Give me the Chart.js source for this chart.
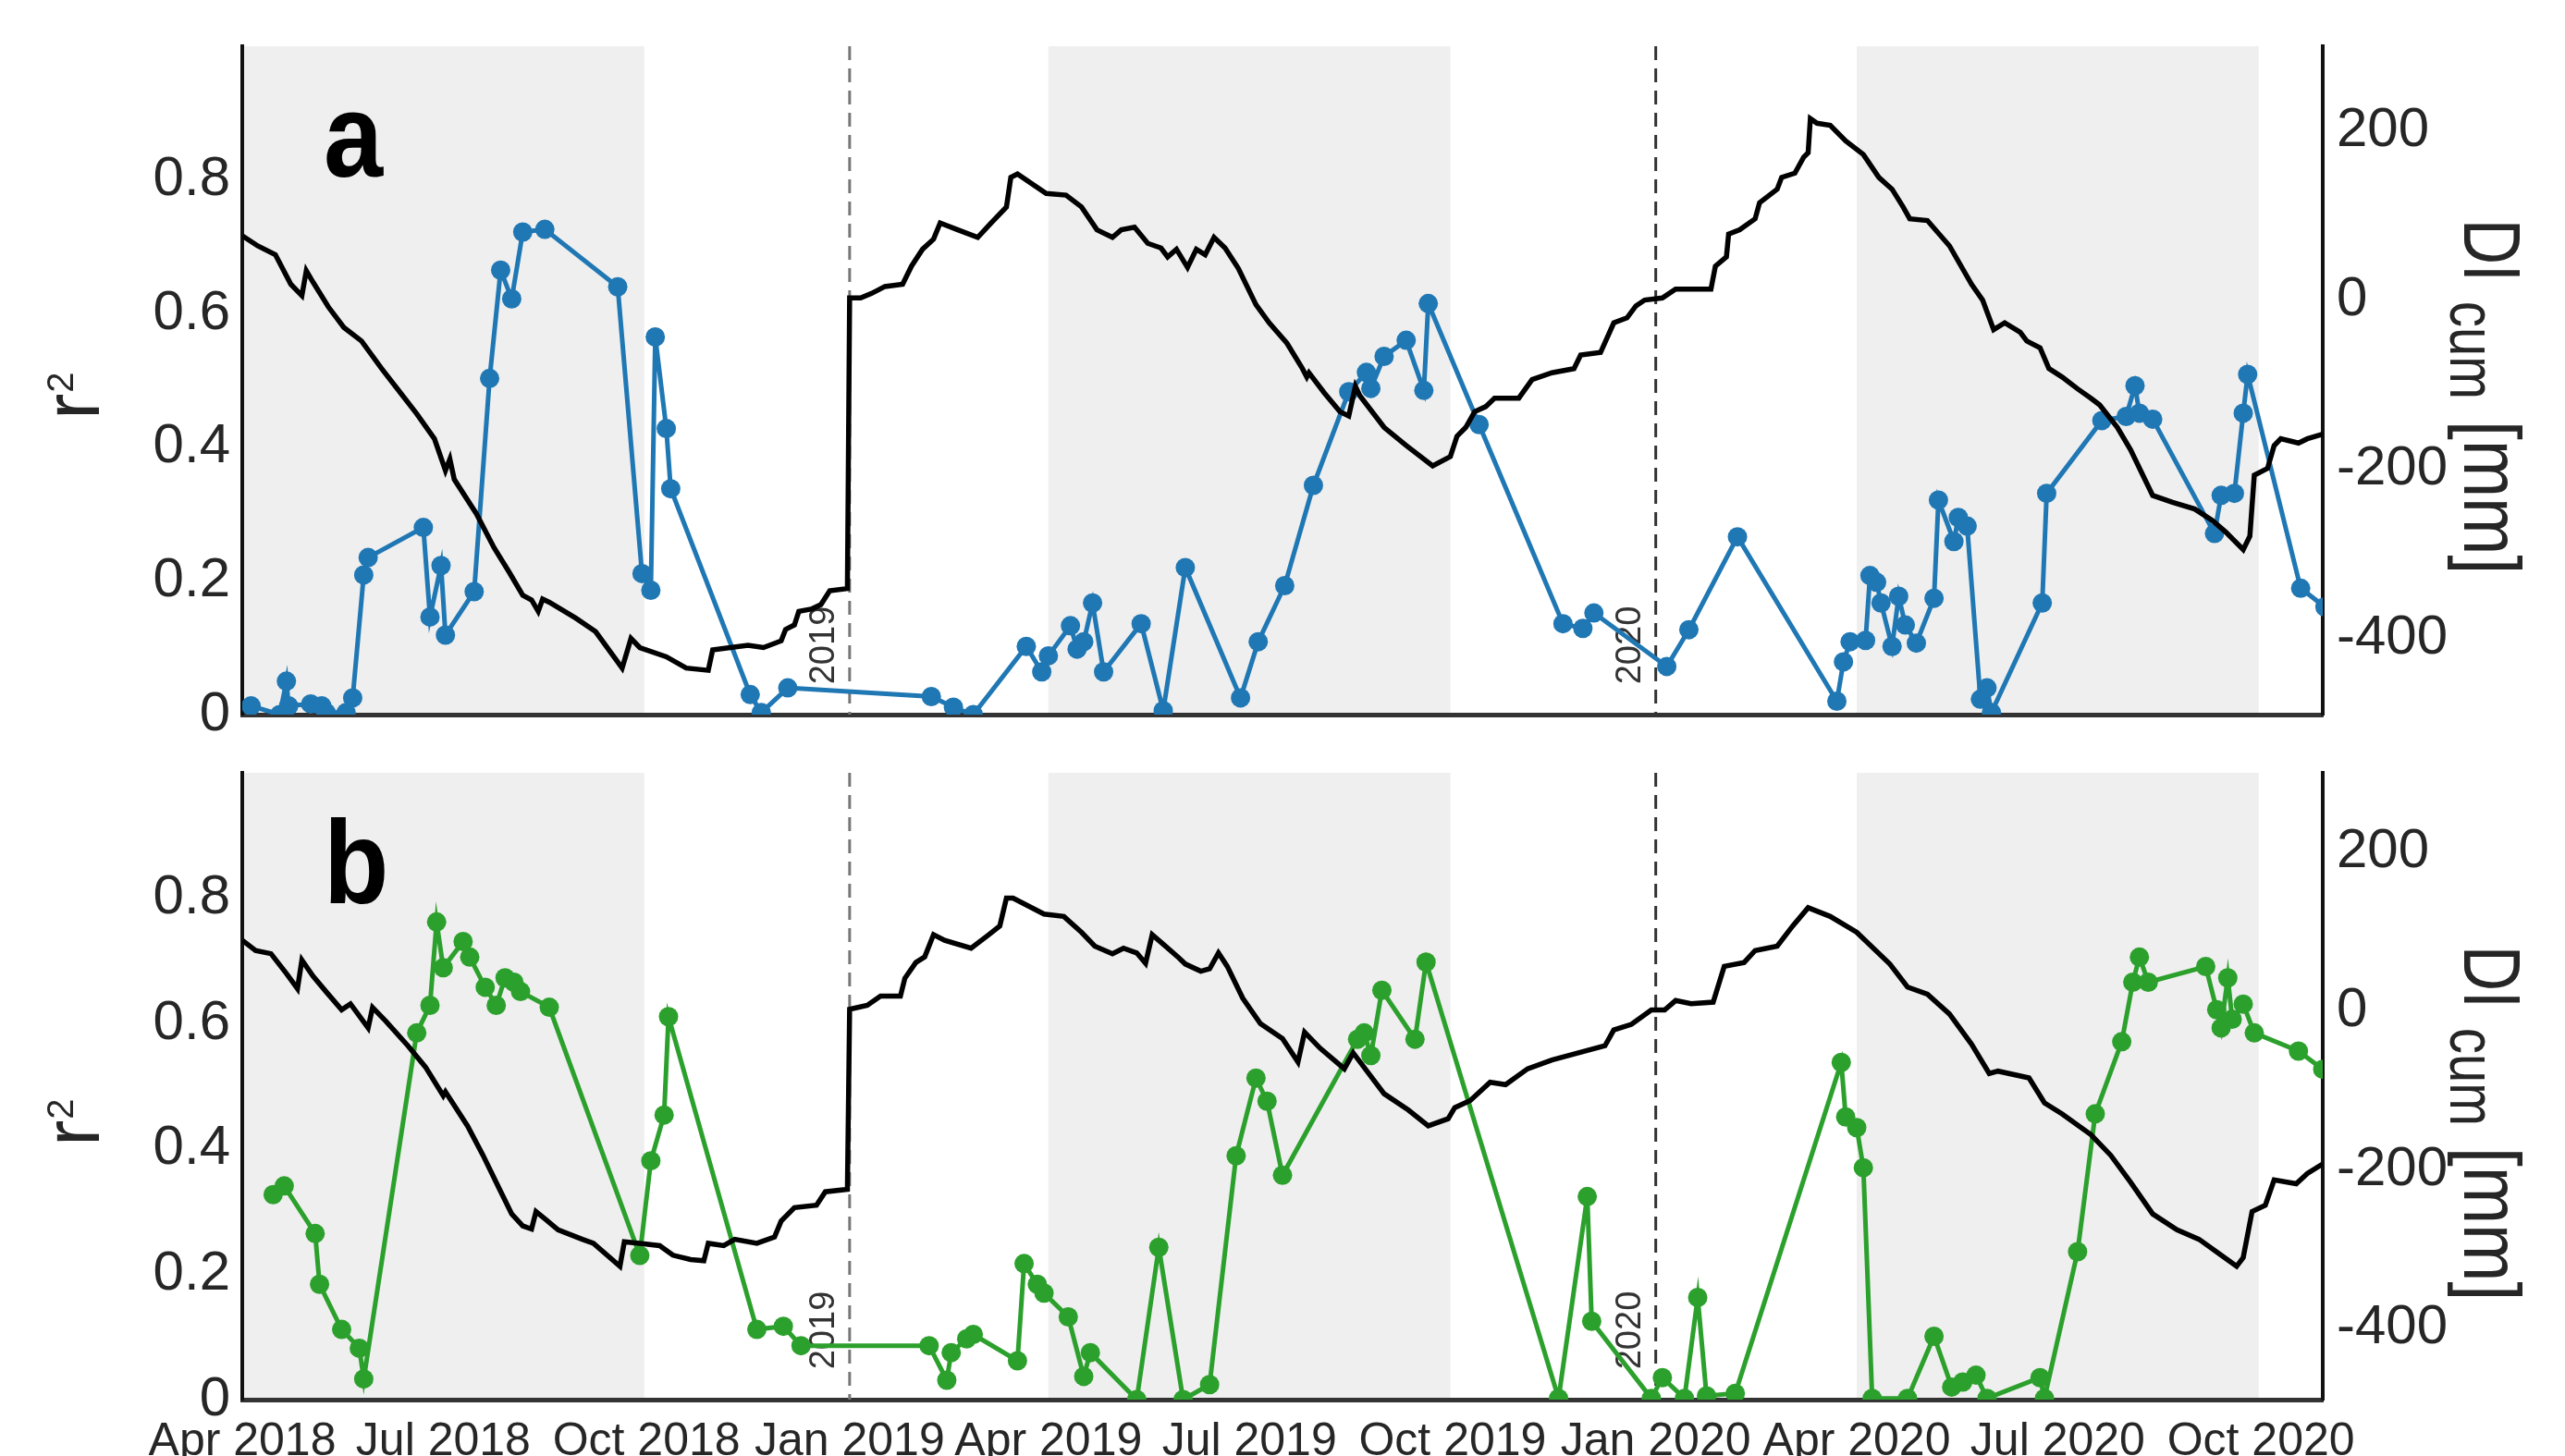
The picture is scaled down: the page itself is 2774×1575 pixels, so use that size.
<!DOCTYPE html>
<html>
<head>
<meta charset="utf-8">
<script src="https://cdn.jsdelivr.net/npm/chart.js@4.4.1/dist/chart.umd.min.js"></script>
<style>
  html, body { margin: 0; padding: 0; background: #fff; }
  #wrap { position: relative; width: 2774px; height: 1575px; overflow: hidden; }
  canvas { position: absolute; left: 0; }
</style>
</head>
<body>
<div id="wrap">
  <canvas id="chartA" width="2774" height="800" style="top:0px"></canvas>
  <canvas id="chartB" width="2774" height="775" style="top:800px"></canvas>
</div>
<script>
// all x values are days since 1 Jan 2019
const xMinDate = '2018-04-01';
const xMaxDate = '2020-10-29';
const xTickDates = ['2018-04-01', '2018-07-01', '2018-10-01', '2019-01-01', '2019-04-01', '2019-07-01',
                    '2019-10-01', '2020-01-01', '2020-04-01', '2020-07-01', '2020-10-01'];
const xTickLabels = ['Apr 2018', 'Jul 2018', 'Oct 2018', 'Jan 2019', 'Apr 2019', 'Jul 2019',
                     'Oct 2019', 'Jan 2020', 'Apr 2020', 'Jul 2020', 'Oct 2020'];
const r2Ticks = [0, 0.2, 0.4, 0.6, 0.8];
const diTicks = [-400, -200, 0, 200];
const seasonStart = ['2018-04-01', '2019-04-01', '2020-04-01'];
const seasonEnd = ['2018-09-30', '2019-09-30', '2020-09-30'];
const yearLines = ['2019-01-01', '2020-01-01'];
const yearLabels = ['2019', '2020'];

// panel a: r2 (blue)
const blueDays = [-271, -258, -255, -254, -244, -239, -237, -228, -225, -220, -218, -193, -190, -185, -183,
  -170, -163, -158, -153, -148, -138, -105, -94, -90, -88, -83, -81, -45, -40, -28,
  37, 47, 56, 80, 87, 90, 100, 103, 106, 110, 115, 132, 142, 152, 177, 185, 197, 210, 226, 234,
  236, 242, 252, 260, 262, 285, 323, 332, 337, 370, 380, 402, 447, 450, 453, 460, 462, 465, 467, 472,
  475, 478, 483, 491, 493, 500, 502, 506, 512, 515, 517, 540, 542, 567, 578, 582, 584, 590, 618, 621,
  627, 631, 633, 657, 668];
const blueR2 = [0.013, 0.0, 0.05, 0.013, 0.016, 0.013, 0.003, 0.003, 0.025, 0.209, 0.235, 0.28, 0.146, 0.223, 0.119,
  0.184, 0.503, 0.665, 0.622, 0.722, 0.726, 0.640, 0.211, 0.186, 0.565, 0.428, 0.338, 0.030, 0.003, 0.040,
  0.027, 0.011, 0.0, 0.102, 0.064, 0.088, 0.133, 0.098, 0.109, 0.167, 0.064, 0.136, 0.006, 0.220, 0.025, 0.109, 0.193, 0.343, 0.483, 0.512,
  0.488, 0.536, 0.560, 0.485, 0.615, 0.434, 0.136, 0.129, 0.152, 0.072, 0.127, 0.266, 0.020, 0.079, 0.109, 0.111, 0.208, 0.198, 0.167, 0.102,
  0.177, 0.134, 0.107, 0.174, 0.321, 0.259, 0.295, 0.282, 0.023, 0.040, 0.003, 0.167, 0.331, 0.440, 0.446, 0.492, 0.451, 0.442, 0.271, 0.328,
  0.331, 0.451, 0.509, 0.189, 0.161];

// panel a: DI cum [mm] (black)
const diDaysA = [-275, -268, -260, -253, -248, -246, -243, -236, -229, -221, -212, -204, -196, -188, -183, -181, -179,
  -169, -161, -154, -148, -144, -141, -139, -136, -124, -115, -103, -99, -95, -83, -74, -64, -62, -54, -46, -39,
  -31, -29, -25, -23, -17, -13, -9, -1, 0, 5, 10, 16, 24, 28, 33, 38, 41, 49, 58, 64, 71, 73, 76, 89, 98, 105,
  112, 119, 123, 129, 135, 141, 144, 148, 153, 157, 161, 165, 170, 176, 184, 190, 198, 205, 207, 208, 215, 222,
  226, 229, 231, 242, 252, 264, 272, 275, 279, 283, 288, 292, 303, 309, 318, 328, 331, 340, 346, 352, 356, 360,
  368, 374, 390, 392, 397, 398, 403, 410, 412, 420, 422, 428, 432, 434, 435, 438, 444, 451, 459, 466, 472, 477,
  480, 488, 498, 508, 513, 518, 523, 530, 533, 539, 543, 549, 556, 562, 566, 574, 580, 586, 590, 599, 609, 617,
  623, 631, 634, 636, 642, 645, 648, 656, 660, 667];
const diA = [76, 64, 53.5, 18.6, 5.2, 34.7, 21.3, -8.2, -32.4, -48.5, -80.7, -107.5, -134.4, -163.9, -201.5, -188, -212,
  -252.5, -292.7, -322.3, -349, -354.5, -368, -353.4, -357.2, -376, -392, -435, -400, -410.8, -421.6, -435, -437.7, -413.5, -410.8, -408, -410.8,
  -402.8, -389.4, -384, -368, -365, -360, -343.7, -341, 2.5, 2.5, 7.9, 16, 18.6, 40, 60, 72, 91, 83, 74, 91, 110, 145, 149, 126, 124, 110,
  83, 74, 83, 86, 67, 61.5, 51, 60, 38.5, 60, 53.5, 74, 61.5, 37.4, -5.5, -27, -51, -81, -91, -86, -110, -132,
  -137, -102, -113, -150.5, -172, -196, -185, -161, -150.5, -132, -126, -116, -116, -94, -86, -81, -65, -62, -27, -21, -7, 0,
  2.5, 13, 13, 40, 51, 78, 83, 96, 115, 131, 145, 150, 169, 174, 214.5, 209, 206.5, 188, 172, 145, 131, 110,
  96, 94, 64, 18.6, 0, -35, -27, -38, -48.5, -56.5, -81, -91, -105, -116, -124, -150.5, -177, -209.5, -231, -239, -247, -260.5,
  -274, -295, -279, -207, -199, -172, -164, -169, -164, -158.5];

// panel b: r2 (green)
const greenDays = [-261, -256, -242, -240, -230, -222, -220, -196, -190, -187, -184, -175, -172, -165, -160,
  -156, -152, -149, -136, -95, -90, -84, -82, -42, -30, -22,
  36, 44, 46, 53, 56, 76, 79, 85, 88, 99, 106, 109, 130, 140, 151, 163, 175, 184, 189, 196,
  230, 233, 236, 241, 256, 261, 321, 334, 336,
  363, 368, 378, 384, 388, 401, 449, 451, 456, 459, 463, 479, 491, 499, 504, 510, 515, 539, 541, 556,
  564, 576, 581, 584, 588, 614, 619, 621, 624, 626, 631, 636, 656, 667];
const greenR2 = [0.327, 0.341, 0.265, 0.184, 0.112, 0.082, 0.033, 0.585, 0.629, 0.762, 0.689, 0.731, 0.706, 0.658, 0.629,
  0.673, 0.666, 0.651, 0.626, 0.230, 0.381, 0.454, 0.611, 0.112, 0.117, 0.086,
  0.086, 0.031, 0.075, 0.097, 0.104, 0.062, 0.217, 0.184, 0.170, 0.132, 0.037, 0.075, 0.0, 0.243, 0.0, 0.024, 0.389, 0.513, 0.476, 0.358,
  0.575, 0.585, 0.549, 0.653, 0.575, 0.698, 0.002, 0.324, 0.125,
  0.002, 0.035, 0.002, 0.163, 0.006, 0.010, 0.538, 0.451, 0.434, 0.370, 0.002, 0.002, 0.101, 0.020, 0.028, 0.039, 0.002, 0.035, 0.002, 0.236,
  0.456, 0.571, 0.666, 0.706, 0.666, 0.691, 0.622, 0.593, 0.673, 0.607, 0.631, 0.585, 0.556, 0.527];

// panel b: DI cum [mm] (black)
const diDaysB = [-275, -269, -262, -255, -250, -248, -243, -237, -230, -226, -218, -216, -210, -200, -192, -184, -183,
  -173, -166, -159, -153, -148, -144, -142, -138, -132, -121, -116, -104, -102, -95, -86, -80, -72, -66, -64, -57,
  -52, -42, -34, -31, -25, -15, -11, -1, 0, 8, 14, 23, 25, 30, 34, 38, 43, 55, 63, 68, 71, 74, 88, 97, 105,
  111, 119, 124, 130, 134, 137, 142, 149, 152, 159, 163, 167, 171, 178, 186, 196, 203, 206, 213, 224, 228, 242,
  253, 262, 271, 274, 281, 290, 297, 307, 318, 330, 342, 346, 354, 363, 369, 374, 381, 391, 396, 405, 410, 420,
  427, 434, 444, 456, 471, 479, 488, 498, 508, 516, 520, 534, 541, 549, 562, 571, 580, 590, 601, 611, 621, 628,
  631, 635, 641, 645, 655, 660, 667];
const diB = [89, 76, 72, 47, 28, 64, 44, 24, 1.3, 8.8, -21.5, 4.2, -13, -44, -71, -107, -102,
  -145, -182, -222, -256, -271, -275, -253, -262, -276, -288, -293, -322, -291, -293, -296, -308, -313.5, -315, -293, -296,
  -288, -293, -285, -265, -248, -245, -228, -225, 2, 7, 18.5, 18.5, 41, 61, 68, 96, 89, 79, 96, 107, 142, 142, 122, 119, 99,
  81.5, 72, 79, 73, 60, 96, 84, 67, 59, 50, 53, 73, 56, 16, -16, -35, -64.5, -27, -47, -73, -53, -104.5,
  -125, -145, -136, -122, -113, -90, -93, -73, -62, -53, -44, -24, -17, 1, 1, 13, 9, 11, 56, 61, 76, 81.5,
  107, 130, 119, 99, 59, 30, 21, -4, -42, -79, -76, -84.5, -116, -130, -156, -182, -216, -256, -276, -288, -308, -322,
  -311, -253, -245, -213, -218, -205, -193];

const FONT = 'Liberation Sans';
const TXT = '#262626';

function day(s) {
  const [y, m, d] = s.split('-').map(Number);
  return (Date.UTC(y, m - 1, d) - Date.UTC(2019, 0, 1)) / 864e5;
}
const xTickDays = xTickDates.map(day);

// fixed box sizes so the plot area lands where the figure has it
function fixBox(w, h) {
  return s => {
    if (w !== null) s.width = w;
    if (h !== null) s.height = h;
    s.paddingTop = 0; s.paddingBottom = 0; s.paddingLeft = 0; s.paddingRight = 0;
  };
}

function makePanel(id, cfg) {
  const decor = {
    id: 'decor_' + id,
    beforeDraw(chart) {
      const { ctx, chartArea: a, scales: { x } } = chart;
      ctx.save();
      ctx.fillStyle = '#efefef';
      seasonStart.forEach((s, i) => {
        const x0 = x.getPixelForValue(day(s));
        const x1 = x.getPixelForValue(day(seasonEnd[i]));
        ctx.fillRect(x0, a.top, x1 - x0, a.bottom - a.top);
      });
      ctx.restore();
    },
    beforeDatasetsDraw(chart) {
      const { ctx, chartArea: a, scales: { x } } = chart;
      yearLines.forEach((s, i) => {
        const px = x.getPixelForValue(day(s));
        ctx.save();
        ctx.strokeStyle = i === 0 ? '#777' : '#333';
        ctx.lineWidth = 3;
        ctx.setLineDash([15, 9]);
        ctx.beginPath();
        ctx.moveTo(px, a.top);
        ctx.lineTo(px, a.bottom);
        ctx.stroke();
        ctx.restore();

        ctx.save();
        ctx.translate(px - 27, a.bottom - 75);
        ctx.rotate(-Math.PI / 2);
        ctx.font = '38px "' + FONT + '"';
        ctx.fillStyle = '#333';
        ctx.textAlign = 'center';
        ctx.textBaseline = 'middle';
        ctx.fillText(yearLabels[i], 0, 0);
        ctx.restore();
      });
    },
    afterDraw(chart) {
      const { ctx, chartArea: a } = chart;
      // panel letter
      ctx.save();
      ctx.translate(350, a.top + 141);
      ctx.scale(0.9, 1);
      ctx.font = 'bold 128px "' + FONT + '"';
      ctx.fillStyle = '#000';
      ctx.fillText(cfg.letter, 0, 0);
      ctx.restore();

      // left title r²
      ctx.save();
      ctx.translate(107, a.top + 404);
      ctx.rotate(-Math.PI / 2);
      ctx.fillStyle = TXT;
      ctx.font = '85px "' + FONT + '"';
      ctx.fillText('r', 0, 0);
      const rw = ctx.measureText('r').width;
      ctx.font = '40px "' + FONT + '"';
      ctx.fillText('2', rw + 1, -28);
      ctx.restore();

      // right title DIcum [mm]
      ctx.save();
      ctx.translate(2665, a.top + 187);
      ctx.rotate(Math.PI / 2);
      ctx.fillStyle = TXT;
      const parts = [
        { t: 'DI', at: 0, dy: 0, size: 87, sx: 0.78 },
        { t: 'cum', at: 89, dy: 15, size: 70, sx: 0.8 },
        { t: '[mm]', at: 218, dy: 0, size: 87, sx: 0.86 }
      ];
      parts.forEach(p => {
        ctx.save();
        ctx.translate(p.at, p.dy);
        ctx.scale(p.sx, 1);
        ctx.font = p.size + 'px "' + FONT + '"';
        ctx.fillText(p.t, 0, 0);
        ctx.restore();
      });
      ctx.restore();
    }
  };

  return new Chart(document.getElementById(id), {
    type: 'line',
    data: {
      datasets: [
        {
          label: 'DIcum',
          data: cfg.diDays.map((d, i) => ({ x: d, y: cfg.di[i] })),
          yAxisID: 'yR',
          borderColor: '#000',
          borderWidth: 5.5,
          pointRadius: 0,
          tension: 0,
          order: 0
        },
        {
          label: 'r2',
          data: cfg.r2Days.map((d, i) => ({ x: d, y: cfg.r2[i] })),
          yAxisID: 'yL',
          borderColor: cfg.color,
          backgroundColor: cfg.color,
          borderWidth: 5,
          pointRadius: 10.5,
          pointBackgroundColor: cfg.color,
          pointBorderWidth: 0,
          tension: 0,
          order: 1
        }
      ]
    },
    options: {
      responsive: false,
      animation: false,
      devicePixelRatio: 1,
      layout: { padding: { top: cfg.padTop, left: 0, right: 0, bottom: 0 } },
      plugins: { legend: { display: false }, tooltip: { enabled: false } },
      scales: {
        x: {
          type: 'linear',
          min: day(xMinDate),
          max: day(xMaxDate),
          grid: { display: false, drawTicks: false },
          border: { display: true, color: '#333', width: 5 },
          afterBuildTicks: s => { s.ticks = xTickDays.map(v => ({ value: v })); },
          afterFit: fixBox(null, cfg.xHeight),
          ticks: {
            display: cfg.showX,
            autoSkip: false,
            maxRotation: 0,
            padding: 16,
            color: TXT,
            font: { family: FONT, size: 50 },
            callback: (v, i) => xTickLabels[i]
          }
        },
        yL: {
          position: 'left',
          min: 0,
          max: 1,
          grid: { display: false, drawTicks: false },
          border: { display: true, color: '#111', width: 4 },
          afterBuildTicks: s => { s.ticks = r2Ticks.map(v => ({ value: v })); },
          afterFit: fixBox(262, null),
          ticks: {
            padding: 13,
            color: TXT,
            font: { family: FONT, size: 60 },
            callback: v => (v === 0 ? '0' : v.toFixed(1))
          }
        },
        yR: {
          position: 'right',
          min: -490,
          max: 300,
          grid: { display: false, drawTicks: false },
          border: { display: true, color: '#111', width: 4 },
          afterBuildTicks: s => { s.ticks = diTicks.map(v => ({ value: v })); },
          afterFit: fixBox(262, null),
          ticks: {
            padding: 15,
            color: TXT,
            font: { family: FONT, size: 60 },
            callback: v => String(v)
          }
        }
      }
    },
    plugins: [decor]
  });
}

makePanel('chartA', {
  letter: 'a', color: '#1f77b4',
  r2Days: blueDays, r2: blueR2, diDays: diDaysA, di: diA,
  padTop: 50, xHeight: 27, showX: false
});
makePanel('chartB', {
  letter: 'b', color: '#2ca02c',
  r2Days: greenDays, r2: greenR2, diDays: diDaysB, di: diB,
  padTop: 36, xHeight: 61, showX: true
});
</script>
</body>
</html>
